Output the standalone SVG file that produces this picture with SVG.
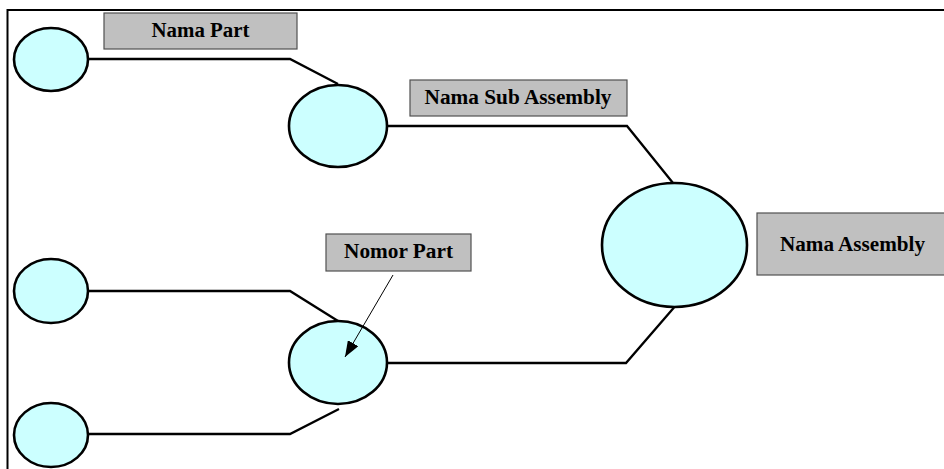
<svg xmlns="http://www.w3.org/2000/svg" width="944" height="469" viewBox="0 0 944 469">
<style>
.node{fill:#CCFFFF;stroke:#000;stroke-width:2.6}
.box{fill:#C0C0C0;stroke:#505050;stroke-width:1.2}
.lbl{font-family:"Liberation Serif","Times New Roman",serif;font-weight:bold;font-size:20px;fill:#000;text-anchor:middle}
.conn{fill:none;stroke:#000;stroke-width:2.3}
.frame{fill:none;stroke:#000;stroke-width:2}
</style>
<defs>
<marker id="ah" viewBox="0 0 16 12" refX="16" refY="6" markerWidth="16" markerHeight="12" markerUnits="userSpaceOnUse" orient="auto">
<path d="M0,0 L16,6 L0,12 Z" fill="#000"/>
</marker>
</defs>
<rect width="944" height="469" fill="#fff"/>
<path class="frame" d="M7.5,469 L7.5,10 L944,10"/>
<g id="part1"><ellipse class="node" cx="51" cy="59.5" rx="37" ry="31.5"/></g>
<g id="part2"><ellipse class="node" cx="51" cy="291" rx="37" ry="32"/></g>
<g id="part3"><ellipse class="node" cx="51" cy="435" rx="37" ry="32"/></g>
<g id="subassembly1"><ellipse class="node" cx="338" cy="126" rx="49" ry="41"/></g>
<g id="subassembly2"><ellipse class="node" cx="338" cy="362.5" rx="49" ry="41.5"/></g>
<g id="assembly"><ellipse class="node" cx="674.5" cy="245" rx="72.5" ry="62"/></g>
<g id="connectors">
<polyline class="conn" points="88.5,59 290,59 338,84"/>
<polyline class="conn" points="387,126 627,126 673,183"/>
<polyline class="conn" points="88.5,291 290,291 338,321"/>
<polyline class="conn" points="88.5,434 290,434 339,409"/>
<polyline class="conn" points="387.5,363 626,363 674,307.5"/>
<line x1="393" y1="275" x2="345" y2="357" stroke="#000" stroke-width="1" marker-end="url(#ah)"/>
</g>
<g id="label-nama-part">
<rect class="box" x="104" y="13" width="193" height="36"/>
<text class="lbl" x="200.5" y="37" textLength="98" lengthAdjust="spacingAndGlyphs">Nama Part</text>
</g>
<g id="label-nama-sub-assembly">
<rect class="box" x="410" y="80" width="217" height="36"/>
<text class="lbl" x="518" y="104" textLength="187" lengthAdjust="spacingAndGlyphs">Nama Sub Assembly</text>
</g>
<g id="label-nama-assembly">
<rect class="box" x="757" y="213" width="191" height="62"/>
<text class="lbl" x="852.5" y="251" textLength="145" lengthAdjust="spacingAndGlyphs">Nama Assembly</text>
</g>
<g id="label-nomor-part">
<rect class="box" x="326" y="234" width="145" height="37"/>
<text class="lbl" x="398.5" y="258" textLength="109" lengthAdjust="spacingAndGlyphs">Nomor Part</text>
</g>
</svg>
